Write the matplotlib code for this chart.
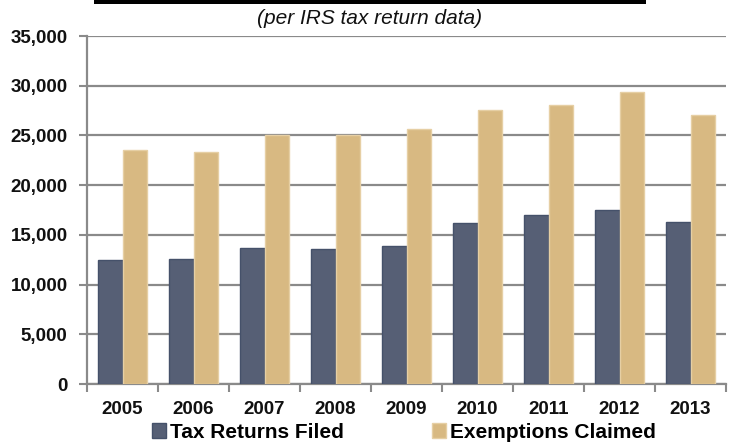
import numpy as np
import matplotlib
matplotlib.use("Agg")
import matplotlib.pyplot as plt
from matplotlib.patches import Rectangle
from matplotlib.ticker import FuncFormatter

plt.rcParams['font.family'] = ['Liberation Sans', 'DejaVu Sans']

# Dati
years = ['2005', '2006', '2007', '2008', '2009', '2010', '2011', '2012', '2013']
returns_filed = [12500, 12550, 13700, 13600, 13850, 16200, 17000, 17550, 16250]
exemptions = [23500, 23350, 25000, 25000, 25650, 27550, 28050, 29400, 27100]
series_names = ['Tax Returns Filed', 'Exemptions Claimed']

dark = '#565F75'
tan = '#D8B982'
grid_col = '#8A8A8A'

fig = plt.figure(figsize=(7.4, 4.45), dpi=100)
ax = fig.add_axes([0.1176, 0.137, 0.8635, 0.782])

x = np.arange(len(years))
w = 0.345
ax.bar(x - w / 2, returns_filed, w, color=dark, edgecolor='#45516A', lw=1,
       label=series_names[0], zorder=3)
ax.bar(x + w / 2, exemptions, w, color=tan, edgecolor='#E6CFA4', lw=1,
       label=series_names[1], zorder=3)

ax.set_xlim(-0.5, len(years) - 0.5)
ax.set_ylim(0, 35000)
ax.set_yticks(np.arange(0, 35001, 5000))
ax.yaxis.set_major_formatter(FuncFormatter(lambda v, p: f"{int(v):,}"))
ax.grid(axis='y', color=grid_col, lw=1.6, zorder=0)

ax.set_xticks(x)
ax.set_xticklabels(years)
ax.set_xticks(np.arange(-0.5, len(years)), minor=True)
ax.tick_params(axis='x', which='major', length=0, pad=12)
ax.tick_params(axis='x', which='minor', length=6, color=grid_col, width=1.5)
ax.tick_params(axis='y', length=6, color=grid_col, width=1.5, pad=8)
for lab in ax.get_xticklabels() + ax.get_yticklabels():
    lab.set_fontsize(13.5)
    lab.set_fontweight('bold')
    lab.set_color('#111111')

for s in ['top', 'right']:
    ax.spines[s].set_visible(False)
for s in ['left', 'bottom']:
    ax.spines[s].set_color(grid_col)
    ax.spines[s].set_linewidth(1.6)

handles, labels = ax.get_legend_handles_labels()
fig.legend(handles, labels, loc='center', bbox_to_anchor=(404 / 740, 1 - 432 / 445),
           ncol=2, frameon=False, handlelength=0.7, handleheight=0.7,
           handletextpad=0.2, columnspacing=4.2, borderpad=0,
           prop={'size': 15, 'weight': 'bold'})

# sottotitolo e barra del titolo tagliato
fig.text(370 / 740, 1 - 18 / 445, '(per IRS tax return data)', ha='center', va='center',
         fontsize=15, style='italic', color='#111111')
fig.add_artist(Rectangle((94 / 740, 1 - 3.5 / 445), (646 - 94) / 740, 3.5 / 445,
                         transform=fig.transFigure, color='black', lw=0))

fig.savefig('out.png', dpi=100)
